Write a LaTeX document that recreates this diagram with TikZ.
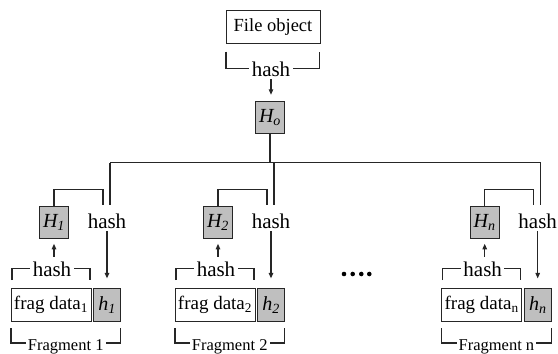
\documentclass[tikz,border=0pt]{standalone}
\usepackage{fontspec}
\setmainfont{Liberation Serif}
\usetikzlibrary{arrows.meta}
\begin{document}
\begin{tikzpicture}[x=1pt,y=-1pt,
  wire/.style={draw=black!85, line width=1.1pt},
  box/.style={draw=black!85, line width=0.9pt, inner sep=0pt, minimum height=33.3pt},
  datbox/.style={box, fill=white, minimum width=80pt, font=\fontsize{19}{19}\selectfont},
  digbox/.style={box, fill=black!25, font=\fontsize{20}{20}\selectfont\itshape},
  hlabel/.style={font=\fontsize{21}{21}\selectfont, inner sep=0pt},
  blabel/.style={hlabel, fill=white, inner xsep=2.5pt},
  flabel/.style={font=\fontsize{16.5}{16.5}\selectfont, inner sep=0pt, fill=white, inner xsep=2pt},
  harrow/.style={wire, -{Triangle[length=5.5pt,width=4.5pt]}}]
\useasboundingbox (0,0) rectangle (558,354);

% root: file object and its hash
\node[box, fill=white, minimum width=94pt, font=\fontsize{18.5}{18.5}\selectfont] (file) at (273,26.7) {File object};
\draw[wire] (226,51.7) -- (226,68.3) -- (319.5,68.3) -- (319.5,51.7);
\node[blabel, anchor=base] (hash0) at (271,76) {hash};
\node[digbox, minimum width=28.3pt, minimum height=31.6pt] (Ho) at (270,117.5) {H\textsubscript{o}};
\draw[harrow, shorten <=3pt, shorten >=6.5pt] (hash0.south) -- (hash0.south |- Ho.north);

% fragments
\foreach \x/\i in {11/1, 175/2, 441.7/n}{
  \node[datbox] (fd\i) at (\x+40,305) {frag data\textsubscript{\i}};
  \node[digbox, minimum width=26.7pt] (h\i) at (\x+96.2,305) {h\textsubscript{\i}};
  \node[digbox, minimum width=29pt, minimum height=32.3pt] (H\i) at (\x+43,222.2) {H\textsubscript{\i}};
  % hash over the fragment data
  \draw[wire] (\x+1,280) -- (\x+1,268.3) -- (\x+79,268.3) -- (\x+79,280);
  \node[blabel, anchor=base] (hb\i) at (\x+41,276.5) {hash};
  \draw[harrow, shorten <=5pt, shorten >=5pt] (hb\i.north -| H\i.south) -- (H\i.south);
  % fragment bracket
  \draw[wire] (\x,328) -- (\x,343) -- (\x+109.5,343) -- (\x+109.5,328);
  \node[flabel, anchor=base] (fl\i) at (\x+54.7,350) {Fragment \i};
  % branch from the tree and loop from H
  \coordinate (bt\i) at (\x+99,162.7);
  \coordinate (bb\i) at (\x+99,205);
  \coordinate (le\i) at (\x+92,205);
  \draw[wire] (bt\i) -- (bb\i);
  \draw[wire] (H\i.north) -- ++(0,-16) -| (le\i);
  \node[hlabel, anchor=base] (bh\i) at (\x+96,228) {hash};
  \draw[harrow, shorten <=3pt, shorten >=9.5pt] (bh\i.south) -- (bh\i.south |- h\i.north);
}

% tree bus
\draw[wire] (bt1) -- (btn);
\draw[wire] (Ho.south) -- (Ho.south |- bt1);

% ellipsis between fragments
\foreach \d in {344,352.7,361.3,369.3}
  \fill[black] (\d,274) circle (2.3);
\end{tikzpicture}
\end{document}
